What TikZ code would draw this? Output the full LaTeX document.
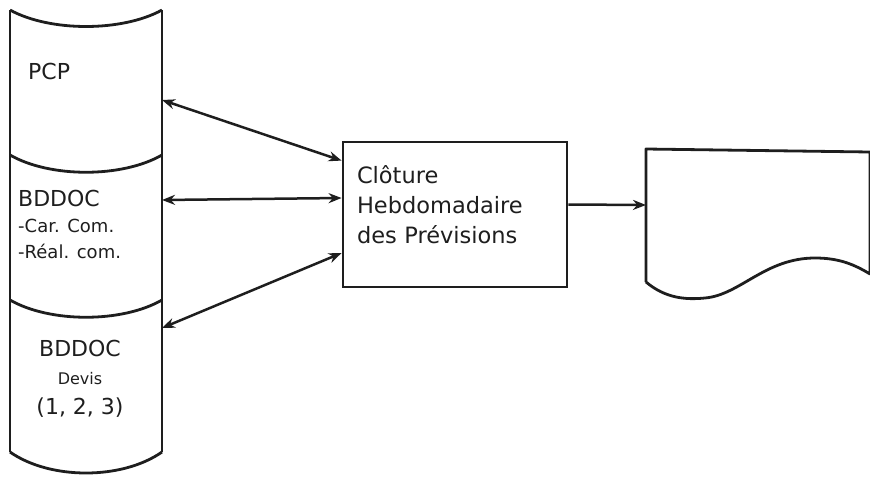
\documentclass[tikz,border=0pt]{standalone}
\usepackage{fontspec}
\setmainfont{DejaVu Sans}
\usepackage{xcolor}
\definecolor{inkdark}{HTML}{1E1E1E}
\usepackage{tikz}
\usetikzlibrary{arrows.meta, positioning, calc}
\tikzset{
  pen/.style   ={draw=inkdark, line width=2.8pt, line join=round},
  dbtxt/.style ={text=inkdark, inner sep=0pt, font=\fontsize{22}{28}\selectfont},
  procbox/.style={rectangle, draw=inkdark, line width=2.8pt, minimum width=224pt, minimum height=145pt,
                  text=inkdark, align=left, text width=196pt, inner sep=0pt, font=\fontsize{22.5}{30}\selectfont},
  dblarr/.style={{Stealth[length=13pt,width=10pt]}-{Stealth[length=13pt,width=10pt]}, line width=2.5pt, color=inkdark},
  sarr/.style  ={-{Stealth[length=13pt,width=10pt]}, line width=2.5pt, color=inkdark},
}

\begin{document}
\begin{tikzpicture}[x=1pt, y=-1pt]
  \useasboundingbox (0,0) rectangle (870,485);
  % pile de fichiers
  \draw[pen] (10,10) -- (10,452) (162,10) -- (162,452);
  \draw[pen] (10,10) .. controls (50,32) and (122,32) .. (162,10);
  \draw[pen] (10,155) .. controls (50,178) and (122,178) .. (162,155);
  \draw[pen] (10,300) .. controls (50,323) and (122,323) .. (162,300);
  \draw[pen] (10,452) .. controls (50,480) and (122,480) .. (162,452);
  \node[dbtxt, anchor=west] (pcp) at (28,71) {PCP};
  \node[dbtxt, anchor=north west, align=left] (car) at (18,190) {BDDOC\\[-2pt]
    {\fontsize{18}{25}\selectfont -Car. Com.}\\[-2pt]
    {\fontsize{18}{25}\selectfont -Réal. com.}};
  \node[dbtxt, anchor=north, align=center] (devis) at (80,340) {BDDOC\\[0pt]
    {\fontsize{16}{26}\selectfont Devis}\\[2pt] (1, 2, 3)};
  \coordinate (pcpR) at (162,100);
  \coordinate (carR) at (162,200);
  \coordinate (devR) at (162,328);

  % traitement
  \node[procbox] (clot) at (455,214.5) {Clôture\\Hebdomadaire\\des Prévisions\\[-10pt]~};
  \coordinate (clotA) at ([yshift=-20pt]clot.north west);
  \coordinate (clotB) at ([yshift=16.5pt]clot.west);
  \coordinate (clotC) at ([yshift=-38.5pt]clot.west);
  \coordinate (clotE) at ([yshift=10pt]clot.east);

  % document
  \draw[pen] (646,282) -- (646,149) -- (870,152) -- (870,274)
    .. controls (855,265) and (840,258) .. (815,258)
    .. controls (765,258) and (740,295) .. (705,298)
    .. controls (685,300) and (665,298) .. (646,282);
  \coordinate (docW) at (646,205);

  \draw[dblarr] (pcpR) -- (clotA);
  \draw[dblarr] (carR) -- (clotB);
  \draw[dblarr] (devR) -- (clotC);
  \draw[sarr] (clotE) -- (docW);
\end{tikzpicture}
\end{document}
